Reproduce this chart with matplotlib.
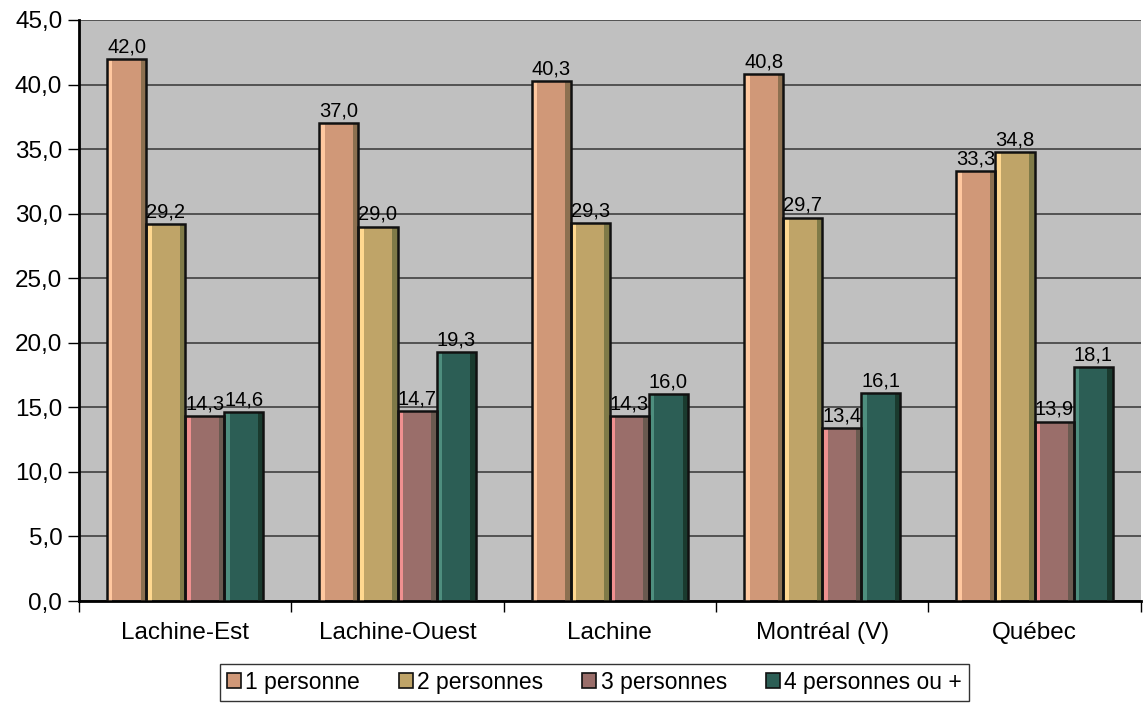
import numpy as np
import matplotlib.pyplot as plt
from matplotlib.patches import Patch

plt.rcParams["font.family"] = ["Liberation Sans", "DejaVu Sans"]

# data
categories = ["Lachine-Est", "Lachine-Ouest", "Lachine", "Montréal (V)", "Québec"]
series_names = ["1 personne", "2 personnes", "3 personnes", "4 personnes ou +"]
p1 = [42.0, 37.0, 40.3, 40.8, 33.3]
p2 = [29.2, 29.0, 29.3, 29.7, 34.8]
p3 = [14.3, 14.7, 14.3, 13.4, 13.9]
p4 = [14.6, 19.3, 16.0, 16.1, 18.1]
series = [p1, p2, p3, p4]

# face, light edge, dark edge
faces = ["#D09878", "#BFA468", "#9A6E6A", "#2C5E55"]
lights = ["#FFC8A0", "#FFD890", "#F09090", "#4E8E7E"]
darks = ["#8C7050", "#7F7A48", "#6A5A50", "#1A3A2E"]

fig = plt.figure(figsize=(11.43, 7.04), dpi=100)
ax = fig.add_axes([0.0691, 0.1463, 0.9289, 0.8253])
ax.set_facecolor("#C0C0C0")

x = np.arange(len(categories))
w = 0.184
b = 0.14 * w

for j, vals in enumerate(series):
    xs = x + (j - 1.5) * w
    ax.bar(xs, vals, width=w, color=faces[j], zorder=2)
    ax.bar(xs - w / 2 + b / 2, vals, width=b, color=lights[j], zorder=3)
    ax.bar(xs + w / 2 - b / 2, vals, width=b, color=darks[j], zorder=3)
    ax.bar(xs, vals, width=w, fill=False, edgecolor="#111111", lw=1.8, zorder=4)
    for xi, v in zip(xs, vals):
        ax.text(xi, v + 0.2, f"{v:.1f}".replace(".", ","), ha="center", va="bottom",
                fontsize=14.5, zorder=5)

ax.set_xlim(-0.5, len(categories) - 0.5)
ax.set_ylim(0, 45)
yt = np.arange(0, 46, 5)
ax.set_yticks(yt)
ax.set_yticklabels([f"{v:.1f}".replace(".", ",") for v in yt], fontsize=17.5)
ax.yaxis.grid(True, color="#404040", lw=1.2, zorder=1)
ax.set_axisbelow(True)

ax.set_xticks(x)
ax.set_xticklabels(categories, fontsize=17.5)
ax.set_xticks(np.arange(-0.5, len(categories)), minor=True)
ax.tick_params(axis="x", which="major", length=0, pad=15)
ax.tick_params(axis="x", which="minor", length=8, width=1, direction="out")
ax.tick_params(axis="y", length=8, width=1, direction="out", pad=4)

for s in ["top", "right"]:
    ax.spines[s].set_visible(False)
ax.spines["left"].set_linewidth(2)
ax.spines["bottom"].set_linewidth(2)

handles = [Patch(facecolor=faces[j], edgecolor="#111111", lw=1.2) for j in range(4)]
leg = fig.legend(handles, series_names, loc="center", bbox_to_anchor=(0.52, 0.031), ncol=4,
                 fontsize=16.5, frameon=True, fancybox=False, handlelength=0.6, handleheight=0.6,
                 handletextpad=0.2, columnspacing=1.7, borderpad=0.3, borderaxespad=0.0)
leg.get_frame().set_edgecolor("black")
leg.get_frame().set_linewidth(1)
# wider frame like the reference
leg._legend_box.align = "center"
leg.set_bbox_to_anchor((0.52, 0.031), transform=fig.transFigure)

fig.savefig("out.png", dpi=100)
